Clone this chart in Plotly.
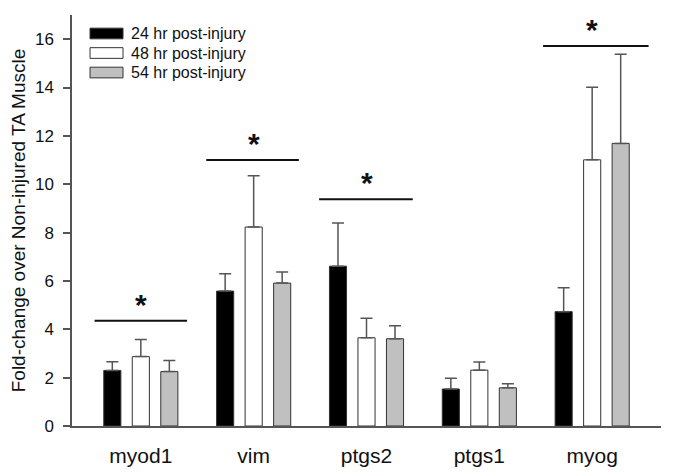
import plotly.graph_objects as go

genes = ["myod1", "vim", "ptgs2", "ptgs1", "myog"]
series_names = ["24 hr post-injury", "48 hr post-injury", "54 hr post-injury"]
vals_24 = [2.30, 5.58, 6.61, 1.53, 4.73]
vals_48 = [2.87, 8.23, 3.65, 2.31, 11.01]
vals_54 = [2.25, 5.91, 3.61, 1.58, 11.69]
err_24 = [0.36, 0.72, 1.79, 0.44, 0.99]
err_48 = [0.71, 2.12, 0.81, 0.34, 3.00]
err_54 = [0.46, 0.46, 0.54, 0.17, 3.69]
sig_idx = [0, 1, 2, 4]
sig_y = [4.35, 11.0, 9.38, 15.72]
sig_left = [-0.41, -0.42, -0.42, -0.435]
sig_right = [0.41, 0.40, 0.41, 0.50]
y_ticks = [0, 2, 4, 6, 8, 10, 12, 14, 16]

colors = ["#000000", "#ffffff", "#c0c0c0"]
FONT = "Arial, Liberation Sans, sans-serif"

fig = go.Figure()
for name, v, e, c in zip(series_names, [vals_24, vals_48, vals_54],
                         [err_24, err_48, err_54], colors):
    fig.add_trace(go.Bar(
        x=genes, y=v, name=name,
        marker=dict(color=c, line=dict(color="#333333", width=1)),
        error_y=dict(type="data", array=e, arrayminus=[0] * len(e), symmetric=False,
                     color="#555555", thickness=1.5, width=6),
        showlegend=False,
    ))

shapes = []
annotations = []
for i, y, l, r in zip(sig_idx, sig_y, sig_left, sig_right):
    shapes.append(dict(type="line", xref="x", yref="y", x0=i + l, x1=i + r, y0=y, y1=y,
                       line=dict(color="#111111", width=2)))
    annotations.append(dict(x=i, y=y, xref="x", yref="y", text="<b>*</b>", showarrow=False,
                            yanchor="bottom", yshift=-2, font=dict(size=30, color="#111111", family=FONT)))

# manual legend (wide swatches like the original)
row_h = 0.0475
for k, (name, c) in enumerate(zip(series_names, colors)):
    y_top = 0.968 - k * row_h
    shapes.append(dict(type="rect", xref="paper", yref="paper",
                       x0=0.0306, x1=0.0866, y0=y_top - 0.026, y1=y_top,
                       fillcolor=c, line=dict(color="#333333", width=1)))
    annotations.append(dict(x=0.0968, y=y_top - 0.013, xref="paper", yref="paper",
                            text=name, showarrow=False, xanchor="left", yanchor="middle",
                            font=dict(size=16, color="#111111", family=FONT)))

# the page body has an 8px default margin, so the figure is sized to fit the window
fig.update_layout(
    width=667, height=467,
    margin=dict(l=64, r=14, t=7, b=49, autoexpand=False),
    paper_bgcolor="white", plot_bgcolor="white",
    barmode="group", bargap=0.242, bargroupgap=0.4,
    font=dict(family=FONT, color="#111111"),
    shapes=shapes, annotations=annotations,
    showlegend=False,
)
fig.update_xaxes(
    range=[-0.61, 4.61], showline=True, linecolor="#555555", linewidth=1.5,
    ticks="", tickfont=dict(size=21, family=FONT), ticklabelstandoff=10,
    showgrid=False, zeroline=False, automargin=False,
)
fig.update_yaxes(
    range=[0, 17], tickvals=y_ticks, showline=True, linecolor="#555555", linewidth=1.5,
    ticks="outside", ticklen=7, tickcolor="#555555", tickwidth=1.5, ticklabelstandoff=6,
    tickfont=dict(size=17, family=FONT), showgrid=False, zeroline=False, automargin=False,
    title=dict(text="Fold-change over Non-injured TA Muscle", font=dict(size=19, family=FONT),
               standoff=25),
)
fig.write_html("out.html")
